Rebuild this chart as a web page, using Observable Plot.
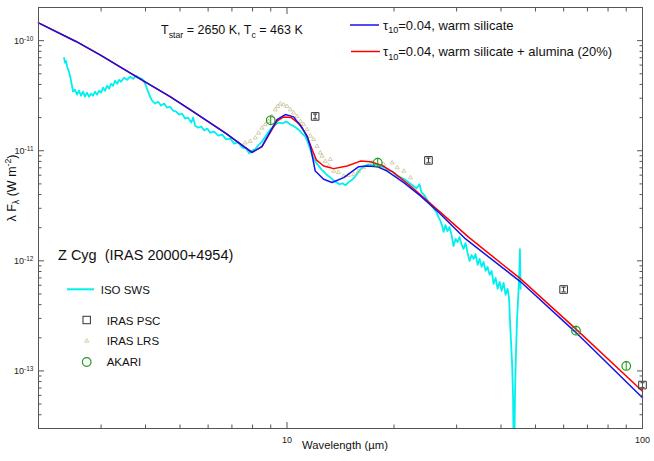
<!DOCTYPE html>
<html><head><meta charset="utf-8">
<script src="https://cdn.jsdelivr.net/npm/d3@7"></script>
<script src="https://cdn.jsdelivr.net/npm/@observablehq/plot@0.6"></script>
<style>body{margin:0;background:#fff;}</style>
</head><body><div id="chart"></div>
<script>
// ISO SWS spectrum (wavelength µm, lambda F_lambda W m^-2)
const isoWavelength = [2.36,2.375,2.389,2.413,2.437,2.46,2.484,2.5,2.533,2.567,2.6,2.634,2.668,2.703,2.738,2.774,2.81,2.847,2.884,2.922,2.96,2.999,3.038,3.078,3.118,3.159,3.2,3.242,3.284,3.327,3.37,3.414,3.48,3.549,3.619,3.69,3.763,3.836,3.912,3.963,4.015,4.067,4.12,4.174,4.256,4.34,4.425,4.512,4.601,4.692,4.783,4.878,4.973,5.071,5.17,5.272,5.375,5.446,5.516,5.625,5.736,5.848,5.964,6.081,6.241,6.405,6.573,6.745,6.922,7.103,7.29,7.481,7.678,7.829,7.984,8.141,8.302,8.464,8.632,8.802,8.974,9.21,9.452,9.7,9.954,10.22,10.49,10.76,11.04,11.26,11.48,11.63,11.78,12.01,12.25,12.49,12.74,12.99,13.24,13.5,13.77,14.04,14.32,14.6,14.89,15.18,15.48,15.78,16.09,16.51,16.94,17.39,17.84,18.31,18.79,19.29,19.79,20.31,20.85,21.4,21.96,22.54,23.13,23.59,23.89,24.36,24.84,25.33,25.83,26.34,26.68,27.03,27.38,27.56,27.92,28.28,28.66,29.03,29.41,29.79,30.18,30.58,30.97,31.38,31.79,32.21,32.63,33.05,33.49,33.92,34.37,34.81,35.27,35.73,36.2,36.67,37.15,37.63,38.12,38.62,39.12,39.63,40.15,40.67,41.2,41.74,42.15,42.42,42.7,42.97,43.25,43.48,43.82,44.1,44.39,44.68,44.97,45.2,45.41];
const isoFlux = [6.97e-11,6.28e-11,6.55e-11,5.67e-11,5.21e-11,4.60e-11,3.89e-11,3.44e-11,3.58e-11,3.23e-11,3.51e-11,3.16e-11,3.44e-11,3.10e-11,3.37e-11,3.10e-11,3.30e-11,3.16e-11,3.44e-11,3.23e-11,3.51e-11,3.37e-11,3.74e-11,3.51e-11,3.89e-11,3.66e-11,4.06e-11,3.89e-11,4.32e-11,4.06e-11,4.41e-11,4.23e-11,4.60e-11,4.41e-11,4.70e-11,4.50e-11,4.80e-11,4.60e-11,4.50e-11,4.23e-11,3.89e-11,3.44e-11,3.10e-11,2.85e-11,2.68e-11,2.79e-11,2.57e-11,2.68e-11,2.46e-11,2.51e-11,2.31e-11,2.27e-11,2.13e-11,2.17e-11,1.96e-11,2.00e-11,1.80e-11,2.00e-11,1.69e-11,1.62e-11,1.66e-11,1.53e-11,1.59e-11,1.46e-11,1.49e-11,1.37e-11,1.40e-11,1.27e-11,1.29e-11,1.16e-11,1.19e-11,1.07e-11,1.05e-11,9.45e-12,1.01e-11,1.03e-11,1.12e-11,1.19e-11,1.29e-11,1.43e-11,1.56e-11,1.69e-11,1.80e-11,1.77e-11,1.84e-11,1.73e-11,1.66e-11,1.56e-11,1.43e-11,1.35e-11,1.16e-11,1.03e-11,9.07e-12,8.00e-12,7.36e-12,6.77e-12,6.36e-12,5.98e-12,5.73e-12,5.39e-12,5.17e-12,4.96e-12,5.06e-12,4.86e-12,5.17e-12,5.39e-12,5.73e-12,6.23e-12,6.77e-12,7.21e-12,7.51e-12,7.36e-12,7.51e-12,7.21e-12,7.06e-12,6.63e-12,6.50e-12,5.98e-12,5.73e-12,5.50e-12,5.17e-12,4.86e-12,4.56e-12,4.96e-12,4.20e-12,3.94e-12,3.55e-12,3.27e-12,3.01e-12,2.77e-12,2.49e-12,2.29e-12,2.03e-12,1.83e-12,2.11e-12,1.86e-12,2.03e-12,1.72e-12,1.36e-12,1.58e-12,1.48e-12,1.64e-12,1.42e-12,1.28e-12,1.45e-12,1.18e-12,9.98e-13,1.13e-12,1.04e-12,1.15e-12,9.18e-13,1.04e-12,8.81e-13,9.77e-13,8.11e-13,8.81e-13,7.46e-13,8.11e-13,6.18e-13,7.01e-13,5.57e-13,6.45e-13,5.34e-13,6.31e-13,4.92e-13,5.57e-13,4.52e-13,2.69e-13,1.77e-13,1.17e-13,5.64e-14,1e-14,6.95e-14,1.60e-13,2.98e-13,4.52e-13,6.86e-13,1.28e-12,5.57e-13];

// IRAS LRS
const lrsWavelength = [7.627,7.88,8.141,8.318,8.504,8.687,8.875,9.073,9.268,9.408,9.575,9.781,10.0,10.22,10.44,10.67,10.9,11.14,11.38,11.63,11.88,12.15,12.41,12.55,12.82,13.1,13.24,13.53,13.95,14.44,14.89,15.4,15.88,16.44,17.36,18.71,19.76,20.42,21.31,22.25];
const lrsFlux = [1.18e-11,1.22e-11,1.31e-11,1.45e-11,1.61e-11,1.73e-11,1.85e-11,2.05e-11,2.36e-11,2.53e-11,2.66e-11,2.62e-11,2.53e-11,2.36e-11,2.21e-11,2.05e-11,1.85e-11,1.73e-11,1.56e-11,1.36e-11,1.27e-11,1.10e-11,9.59e-12,8.94e-12,8.05e-12,7.26e-12,8.34e-12,6.54e-12,6.36e-12,5.89e-12,5.98e-12,6.11e-12,6.50e-12,7.02e-12,7.79e-12,7.51e-12,7.79e-12,7.02e-12,6.54e-12,5.70e-12];

// IRAS PSC photometry
const pscWavelength = [12, 25, 60, 100];
const pscFlux = [2.05e-11, 8.17e-12, 5.49e-13, 7.44e-14];
const pscRelErr = [0.05, 0.05, 0.05, 0.05];

// AKARI photometry
const akariWavelength = [9, 18, 65, 90];
const akariFlux = [1.89e-11, 7.79e-12, 2.32e-13, 1.11e-13];
const akariRelErr = [0.1, 0.1, 0.1, 0.1];

// Model: tau10 = 0.04, warm silicate
const silWavelength = [2.0,2.55,2.98,3.86,4.69,5.34,6.70,7.97,8.50,9.37,9.89,10.44,11.02,11.38,11.63,11.83,12.01,12.68,13.39,14.44,15.91,16.81,17.93,19.13,21.31,23.74,26.73,31.79,45.41,65,100];
const silFlux = [1.45e-10,9.83e-11,7.43e-11,4.50e-11,3.10e-11,2.36e-11,1.45e-11,9.65e-12,1.09e-11,1.92e-11,2.13e-11,2.03e-11,1.61e-11,1.36e-11,1.10e-11,8.34e-12,6.54e-12,5.50e-12,5.14e-12,5.70e-12,7.17e-12,7.26e-12,7.17e-12,6.54e-12,5.14e-12,3.89e-12,2.75e-12,1.58e-12,6.45e-13,2.23e-13,5.70e-14];

// Model: tau10 = 0.04, warm silicate + alumina (20%)
const aluWavelength = [2.0,2.55,2.98,3.86,4.69,5.34,6.70,7.97,8.50,9.37,9.76,10.28,10.90,11.38,11.76,12.09,12.68,13.53,14.76,16.09,17.17,18.52,19.97,22.25,26.73,32.42,45.41,65,100];
const aluFlux = [1.45e-10,9.83e-11,7.43e-11,4.50e-11,3.10e-11,2.36e-11,1.45e-11,9.65e-12,1.09e-11,1.86e-11,2.02e-11,2.00e-11,1.73e-11,1.36e-11,1.03e-11,8.26e-12,7.26e-12,6.88e-12,7.26e-12,8.05e-12,7.95e-12,7.36e-12,6.32e-12,4.78e-12,2.84e-12,1.64e-12,6.86e-13,2.40e-13,6.53e-14];

// Ticks
const xMajorTicks = [10, 100];
const xMinorTicks = [3,4,5,6,7,8,9,20,30,40,50,60,70,80,90];
const yMajorTicks = [1e-10, 1e-11, 1e-12, 1e-13];
const yMinorTicks = [3e-14,4e-14,5e-14,6e-14,7e-14,8e-14,9e-14,2e-13,3e-13,4e-13,5e-13,6e-13,7e-13,8e-13,9e-13,2e-12,3e-12,4e-12,5e-12,6e-12,7e-12,8e-12,9e-12,2e-11,3e-11,4e-11,5e-11,6e-11,7e-11,8e-11,9e-11,2e-10];

const fontFamily = '"Liberation Sans", Arial, Helvetica, sans-serif';
const axisColor = "#555";
const cyan = "#00f0f0", blue = "#1414e6", red = "#ff0000", green = "#1f9a1f", tan = "#c9c196", gray = "#333";

const zip = (xs, ys, extra) => xs.slice(0, Math.min(xs.length, ys.length)).map((w, i) => ({w, f: ys[i], e: extra ? extra[i] : 0}));
const iso = zip(isoWavelength, isoFlux);
const lrs = zip(lrsWavelength, lrsFlux);
const psc = zip(pscWavelength, pscFlux, pscRelErr);
const akari = zip(akariWavelength, akariFlux, akariRelErr);
const sil = zip(silWavelength, silFlux);
const alu = zip(aluWavelength, aluFlux);

const capSymbol = {draw(ctx, size) { const r = Math.sqrt(size / Math.PI); ctx.moveTo(-r, 0); ctx.lineTo(r, 0); }};
const noText = () => "";

const plot = Plot.plot({
  width: 654, height: 461,
  marginLeft: 38, marginRight: 12, marginTop: 7, marginBottom: 33,
  style: {fontFamily, background: "white", color: "#222", overflow: "visible"},
  x: {type: "log", domain: [2, 100]},
  y: {type: "log", domain: [3e-14, 2e-10]},
  marks: [
    Plot.line(iso, {x: "w", y: "f", stroke: cyan, strokeWidth: 1.8, clip: true}),
    Plot.dot(lrs, {x: "w", y: "f", symbol: "triangle", r: 1.5, stroke: tan, strokeWidth: 0.8, fill: "none"}),
    Plot.line(alu, {x: "w", y: "f", stroke: red, strokeWidth: 1.5}),
    Plot.line(sil, {x: "w", y: "f", stroke: blue, strokeWidth: 1.5}),
    Plot.ruleX(psc, {x: "w", y1: d => d.f / (1 + d.e), y2: d => d.f * (1 + d.e), stroke: gray, strokeWidth: 1}),
    Plot.dot(psc, {x: "w", y: d => d.f / (1 + d.e), symbol: capSymbol, r: 2, stroke: gray, strokeWidth: 1}),
    Plot.dot(psc, {x: "w", y: d => d.f * (1 + d.e), symbol: capSymbol, r: 2, stroke: gray, strokeWidth: 1}),
    Plot.dot(psc, {x: "w", y: "f", symbol: "square", r: 4.3, stroke: gray, strokeWidth: 1, fill: "none"}),
    Plot.ruleX(akari, {x: "w", y1: d => d.f / (1 + d.e), y2: d => d.f * (1 + d.e), stroke: green, strokeWidth: 1}),
    Plot.dot(akari, {x: "w", y: "f", r: 4.3, stroke: green, strokeWidth: 1.2, fill: "none"}),
    Plot.frame({stroke: axisColor, strokeWidth: 1}),
    Plot.axisX(xMajorTicks, {anchor: "bottom", tickSize: -6, tickFormat: noText, label: null, stroke: axisColor}),
    Plot.axisX(xMinorTicks, {anchor: "bottom", tickSize: -3.5, tickFormat: noText, label: null, stroke: axisColor}),
    Plot.axisX(xMajorTicks, {anchor: "top", tickSize: -6, tickFormat: noText, label: null, stroke: axisColor}),
    Plot.axisX(xMinorTicks, {anchor: "top", tickSize: -3.5, tickFormat: noText, label: null, stroke: axisColor}),
    Plot.axisY(yMajorTicks, {anchor: "left", tickSize: -6, tickFormat: noText, label: null, stroke: axisColor}),
    Plot.axisY(yMinorTicks, {anchor: "left", tickSize: -3.5, tickFormat: noText, label: null, stroke: axisColor}),
    Plot.axisY(yMajorTicks, {anchor: "right", tickSize: -6, tickFormat: noText, label: null, stroke: axisColor}),
    Plot.axisY(yMinorTicks, {anchor: "right", tickSize: -3.5, tickFormat: noText, label: null, stroke: axisColor}),
    Plot.axisX(xMajorTicks, {anchor: "bottom", tickSize: 0, tickPadding: 8, tickFormat: d => String(d), label: null, fontSize: 9, fill: "#222"}),
    Plot.axisY(yMajorTicks, {anchor: "left", tickSize: 0, tickPadding: 5, tickFormat: d => "10^" + Math.round(Math.log10(d)), label: null, fontSize: 9, fill: "#222"})
  ]
});
document.getElementById("chart").appendChild(plot);

const svg = d3.select(plot);
// superscript exponents on y tick labels
svg.selectAll('g[aria-label="y-axis tick label"] text').each(function() {
  const t = d3.select(this);
  const m = t.text().match(/^10\^(-?\d+)$/);
  if (!m) return;
  t.text(null);
  t.append("tspan").text("10");
  t.append("tspan").attr("dy", "-0.42em").attr("font-size", "6.5px").text(m[1]);
});

const ann = svg.append("g").attr("font-family", fontFamily).attr("fill", "#111");
function rich(x, y, parts, size, opts = {}) {
  const t = ann.append("text").attr("x", x).attr("y", y).attr("font-size", size + "px")
    .attr("text-anchor", opts.anchor || "start").style("white-space", "pre");
  if (opts.transform) t.attr("transform", opts.transform);
  let shift = 0;
  for (const [s, kind] of parts) {
    const target = kind === "sub" ? size * 0.3 : kind === "sup" ? -size * 0.4 : 0;
    const sp = t.append("tspan").text(s).attr("dy", (target - shift).toFixed(2));
    if (kind) sp.attr("font-size", (size * 0.7) + "px");
    shift = target;
  }
  return t;
}

// top annotation
rich(161, 34, [["T"], ["star", "sub"], [" = 2650 K, T"], ["c", "sub"], [" = 463 K"]], 12.5);

// top-right legend
ann.append("line").attr("x1", 350).attr("x2", 379).attr("y1", 25).attr("y2", 25).attr("stroke", blue).attr("stroke-width", 1.5);
rich(383, 29.5, [["τ"], ["10", "sub"], ["=0.04, warm silicate"]], 13);
ann.append("line").attr("x1", 351).attr("x2", 380).attr("y1", 51.5).attr("y2", 51.5).attr("stroke", red).attr("stroke-width", 1.5);
rich(383, 56, [["τ"], ["10", "sub"], ["=0.04, warm silicate + alumina (20%)"]], 13);

// lower-left legend
rich(58, 259.5, [["Z Cyg  (IRAS 20000+4954)"]], 14.5);
ann.append("line").attr("x1", 67).attr("x2", 94).attr("y1", 289.3).attr("y2", 289.3).attr("stroke", cyan).attr("stroke-width", 2);
rich(100.7, 293.5, [["ISO SWS"]], 11.5);
ann.append("rect").attr("x", 83).attr("y", 316.3).attr("width", 7.4).attr("height", 7.4).attr("fill", "none").attr("stroke", gray).attr("stroke-width", 1);
rich(106.7, 324.5, [["IRAS PSC"]], 11.5);
ann.append("path").attr("d", d3.symbol(d3.symbolTriangle, Math.PI * 1.5 * 1.5)()).attr("transform", "translate(86.7,341)").attr("fill", "none").attr("stroke", tan).attr("stroke-width", 0.8);
rich(106.7, 345.3, [["IRAS LRS"]], 11.5);
ann.append("circle").attr("cx", 86.7).attr("cy", 362).attr("r", 4.3).attr("fill", "none").attr("stroke", green).attr("stroke-width", 1.2);
rich(106.7, 366.3, [["AKARI"]], 11.5);

// axis titles
rich(345, 449, [["Wavelength (µm)"]], 11.3, {anchor: "middle"});
rich(0, 0, [["λ F"], ["λ", "sub"], [" (W m"], ["-2", "sup"], [")"]], 12.5, {anchor: "middle", transform: "translate(15.5,188) rotate(-90)"});
</script>
</body></html>
